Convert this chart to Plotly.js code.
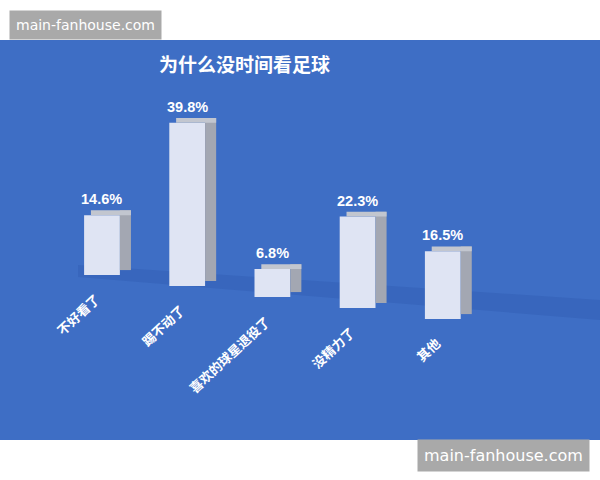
<!DOCTYPE html>
<html>
<head>
<meta charset="utf-8">
<script src="https://cdn.plot.ly/plotly-3.0.1.min.js"></script>
<style>
  html, body { margin: 0; padding: 0; background: #fff; }
  #chart { width: 600px; height: 480px; }
</style>
</head>
<body>
<div id="chart"></div>
<script>
const categories = ["不好看了", "踢不动了", "喜欢的球星退役了", "没精力了", "其他"];
const shares = [14.6, 39.8, 6.8, 22.3, 16.5];
const valueLabels = ["14.6%", "39.8%", "6.8%", "22.3%", "16.5%"];
const chartTitle = "为什么没时间看足球";
const watermark = "main-fanhouse.com";

// fake perspective: the floor slopes down to the right
const pxPerUnit = 4.1;
const floorBase = categories.map((c, i) => (25 - 11 * i) / pxPerUnit);
const depth = 1.2;

const frontFace = {
  type: "bar",
  x: categories,
  y: shares,
  base: floorBase,
  width: 0.42,
  offset: -0.21,
  marker: { color: "#dfe4f3", line: { width: 0 } },
  hoverinfo: "skip"
};
const sideFace = {
  type: "bar",
  x: categories,
  y: shares,
  base: floorBase.map(b => b + depth),
  width: 0.13,
  offset: 0.21,
  marker: { color: "#a3a7b2", line: { width: 0 } },
  hoverinfo: "skip"
};
const topFace = {
  type: "bar",
  x: categories,
  y: shares.map(() => depth),
  base: floorBase.map((b, i) => b + shares[i]),
  width: 0.47,
  offset: -0.13,
  marker: { color: "#c2c6cf", line: { width: 0 } },
  hoverinfo: "skip"
};

const annotations = [];
categories.forEach((c, i) => {
  annotations.push({
    x: c, y: floorBase[i] + shares[i] + depth, yshift: 1,
    text: valueLabels[i], showarrow: false,
    xanchor: "center", yanchor: "bottom",
    font: { family: "Liberation Sans, Arial", size: 14.5, color: "#ffffff", weight: "bold" }
  });
  annotations.push({
    x: c, y: floorBase[i], xshift: 4, yshift: -12,
    text: c, showarrow: false, textangle: -43,
    xanchor: "right", yanchor: "top",
    font: { family: "Noto Sans CJK SC", size: 13, color: "#ffffff", weight: "bold" }
  });
});
annotations.push({
  xref: "paper", yref: "paper", x: 0.408, y: 0.9425,
  text: chartTitle, showarrow: false, xanchor: "center", yanchor: "middle",
  font: { family: "Noto Sans CJK SC", size: 19, color: "#ffffff", weight: "bold" }
});
annotations.push({
  xref: "paper", yref: "paper", x: 0.015, y: 1.0375,
  text: watermark, showarrow: false, xanchor: "left", yanchor: "middle",
  bgcolor: "#a9a9a9", borderpad: 6,
  font: { family: "DejaVu Sans", size: 14, color: "#ffffff" }
});
annotations.push({
  xref: "paper", yref: "paper", x: 0.983, y: -0.0375,
  text: watermark, showarrow: false, xanchor: "right", yanchor: "middle",
  bgcolor: "#a9a9a9", borderpad: 6,
  font: { family: "DejaVu Sans", size: 16, color: "#ffffff" }
});

const layout = {
  width: 600,
  height: 480,
  margin: { l: 0, r: 0, t: 40, b: 40 },
  paper_bgcolor: "#ffffff",
  plot_bgcolor: "#3e6ec5",
  barmode: "overlay",
  showlegend: false,
  xaxis: {
    range: [-1.197, 5.845],
    showticklabels: false, showgrid: false, zeroline: false, fixedrange: true
  },
  yaxis: {
    range: [-140 / pxPerUnit, 260 / pxPerUnit],
    showticklabels: false, showgrid: false, zeroline: false, fixedrange: true
  },
  shapes: [{
    // faint floor shadow behind the bars
    type: "path", xref: "paper", yref: "paper", layer: "below",
    path: "M 0.13,0.4375 L 1,0.35 L 1,0.30 L 0.13,0.4075 Z",
    fillcolor: "rgba(20,50,130,0.12)", line: { width: 0 }
  }],
  annotations: annotations
};

Plotly.newPlot("chart", [frontFace, sideFace, topFace], layout, { displayModeBar: false, staticPlot: true });
</script>
</body>
</html>
